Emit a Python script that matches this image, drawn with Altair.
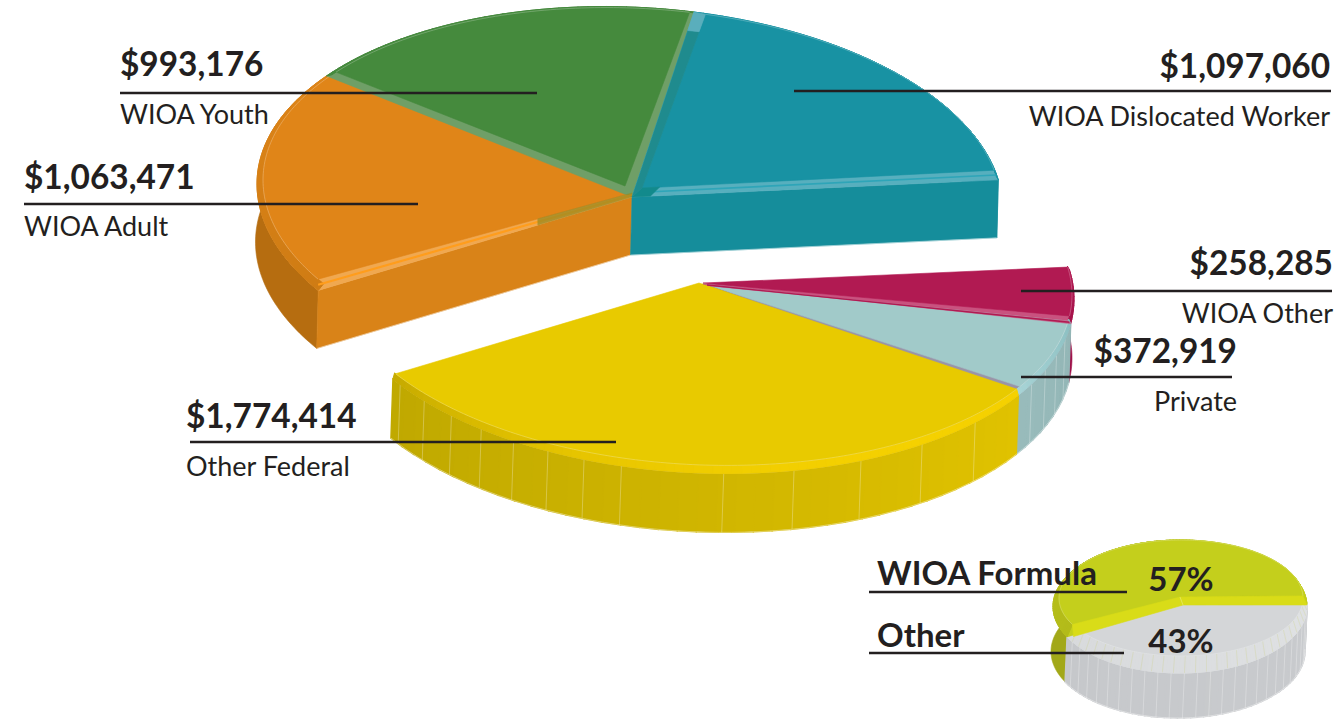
import math
import altair as alt
import pandas as pd

# Funding by source, clockwise from the front-left edge of the upper group
SOURCES = ["WIOA Adult", "WIOA Youth", "WIOA Dislocated Worker", "WIOA Other", "Private", "Other Federal"]
AMOUNTS = [1063471, 993176, 1097060, 258285, 372919, 1774414]
SHARE_NAMES = ["Other", "WIOA Formula"]
SHARES = [43, 57]

INK = "#231f20"
FONT = "Lato"
START = -123.3
SMALL_START = 88


def lerp_hex(c1, c2, t):
    a = [int(c1[i:i + 2], 16) for i in (1, 3, 5)]
    b = [int(c2[i:i + 2], 16) for i in (1, 3, 5)]
    return "#" + "".join(f"{round(p + (q - p) * t):02x}" for p, q in zip(a, b))


def mix(p, q, t):
    return (p[0] + (q[0] - p[0]) * t, p[1] + (q[1] - p[1]) * t)


class Disc:
    """Tilted disc: angles run clockwise from the back, drawn on a sheared ellipse."""

    def __init__(self, cx, cy, a, b, shear, ocx, ocy, oa, ob, drop, lean, apex):
        self.cx, self.cy, self.a, self.b, self.shear = cx, cy, a, b, shear
        self.ocx, self.ocy, self.oa, self.ob = ocx, ocy, oa, ob
        self.drop, self.lean, self.apex = drop, lean, apex

    def top(self, t):
        r = math.radians(t)
        return (self.cx + self.a * math.sin(r), self.cy - self.b * math.cos(r) + self.shear * math.sin(r))

    def rim(self, t):
        r = math.radians(t)
        return (self.ocx + self.oa * math.sin(r), self.ocy - self.ob * math.cos(r) + self.shear * math.sin(r))

    def low(self, p):
        return (p[0] + self.lean, p[1] + self.drop)


features = []


def add(coords, fill, stroke=None, sw=0.6, op=1.0):
    ring = [list(p) for p in coords] + [list(coords[0])]
    features.append({
        "type": "Feature",
        "geometry": {"type": "Polygon", "coordinates": [ring]},
        "properties": {"fill": fill, "stroke": stroke or fill, "sw": sw, "op": op},
    })


def stroke_line(coords, color, sw=0.8, op=0.5):
    features.append({
        "type": "Feature",
        "geometry": {"type": "LineString", "coordinates": [list(p) for p in coords]},
        "properties": {"fill": "transparent", "stroke": color, "sw": sw, "op": op},
    })


def sweep(t1, t2, step):
    n = max(2, int(abs(t2 - t1) / step) + 1)
    return [t1 + (t2 - t1) * i / n for i in range(n + 1)]


def seam_angles(t1, t2, step):
    out = []
    t = t1 + step
    while t < t2 - 0.5:
        out.append(t)
        t += step
    return out


def draw_sides(d, slices):
    for s in slices:
        if s["side_a"] == s["side_b"]:
            # One flat wall when the shade does not change along the arc
            arc = [d.rim(t) for t in sweep(s["t1"], s["t2"], 1.0)]
            add(arc + [d.low(p) for p in reversed(arc)], s["side_a"])
            continue
        ts = sweep(s["t1"], s["t2"], 3.0)
        for i in range(len(ts) - 1):
            p, q = d.rim(ts[i]), d.rim(ts[i + 1])
            f = (ts[i] - s["t1"]) / (s["t2"] - s["t1"])
            add([p, q, d.low(q), d.low(p)], lerp_hex(s["side_a"], s["side_b"], f), sw=1.4)
    for s in slices:
        for t in s.get("seams", []):
            p = d.rim(t)
            stroke_line([p, d.low(p)], "#ffffff", 0.8, 0.35)
        if s.get("seams"):
            arc = [d.rim(t) for t in sweep(s["t1"], s["t2"], 2)]
            stroke_line(arc, "#ffffff", 0.8, 0.5)
            stroke_line([d.low(p) for p in arc], "#ffffff", 0.8, 0.5)


def draw_cut(d, t, fill):
    p = d.rim(t)
    add([d.apex, p, d.low(p), d.low(d.apex)], fill)
    stroke_line([d.low(d.apex), d.low(p)], "#ffffff", 1, 0.45)


def draw_face(d, s):
    t1, t2 = s["t1"], s["t2"]
    # Bevel base in the band colour, then the shaded ring, then the flat face
    base = [d.apex] + [d.rim(t) for t in sweep(t1, t2, 1.5)]
    add(base, s["band"])
    ts = sweep(t1, t2, 1.5)
    for i in range(len(ts) - 1):
        f = (i / (len(ts) - 1)) ** s.get("ring_pow", 1)
        add([d.top(ts[i]), d.top(ts[i + 1]), d.rim(ts[i + 1]), d.rim(ts[i])],
            lerp_hex(s["ring_a"], s["ring_b"], f), sw=1.0)
    for t in s.get("ring_ticks", []):
        stroke_line([d.top(t), d.rim(t)], s.get("tick", "#ffffff"), 0.6, 0.3)
    inner_apex = (d.apex[0] + s["off"][0], d.apex[1] + s["off"][1])
    arc = [d.top(t) for t in sweep(t1 + s["d1"], t2 - s["d2"], 1.0)]
    add([inner_apex] + arc, s["face"])
    stroke_line(arc, "#ffffff", 0.7, 0.35)
    return inner_apex


big = Disc(632, 193, 369, 185, 13, 630, 197, 373, 190, 58, -1.5, (632, 197))
low = Disc(703, 283, 369, 182, 12, 703, 287, 371, 186, 59, -2, (703, 284))
small = Disc(1181, 598, 122, 58, 0, 1180, 606.5, 127, 66.5, 45, -2, (1181, 603))

edges = [START]
for v in AMOUNTS:
    edges.append(edges[-1] + v / sum(AMOUNTS) * 360)

styles = [
    dict(face="#e08518", band="#f0a850", ring_a="#cf7c14", ring_b="#dd8418", side_a="#b66d10", side_b="#b66d10",
         d1=1.6, d2=0.0, off=(0, -4)),
    dict(face="#458a3d", band="#6f9f67", ring_a="#458a3d", ring_b="#458a3d", side_a="#3c7a36", side_b="#3c7a36",
         d1=1.1, d2=0.9, off=(-7, -11)),
    dict(face="#1892a3", band="#57afbe", ring_a="#1892a3", ring_b="#1892a3", side_a="#158b9b", side_b="#158b9b",
         d1=1.6, d2=2.0, off=(10, -9)),
    dict(face="#b11a52", band="#c9527f", ring_a="#b11a52", ring_b="#a5124a", side_a="#9e0f48", side_b="#9e0f48",
         d1=0.3, d2=1.0, off=(0, -1)),
    dict(face="#a1cac9", band="#9a94a8", ring_a="#8cc0c2", ring_b="#a8d4d6", side_a="#93b6b6", side_b="#99bcbc",
         d1=0.6, d2=1.0, off=(8, 2)),
    dict(face="#e8ca00", band="#c9ac10", ring_a="#f5d100", ring_b="#c4a900", ring_pow=3,
         side_a="#e0c200", side_b="#bfa800", d1=0.0, d2=0.3, off=(-4, -1)),
]
slices = []
for i, st in enumerate(styles):
    slices.append(dict(st, t1=edges[i], t2=edges[i + 1]))
slices[4]["seams"] = seam_angles(edges[4], edges[5], 5)
slices[5]["seams"] = seam_angles(edges[5], edges[6] - 50, 11) + seam_angles(edges[6] - 50, edges[6], 6)

# Upper group: adult, youth, dislocated worker
draw_sides(big, slices[:3])
draw_cut(big, edges[0], "#d98318")
draw_cut(big, edges[3], "#158d9b")
for s in slices[:3]:
    s["inner"] = draw_face(big, s)

# Highlight strips and shadowed ends on the cut-edge bevels
o = slices[0]
a0, b0 = big.apex, big.rim(o["t1"])
c0, e0 = o["inner"], big.top(o["t1"] + o["d1"])
stroke_line([mix(a0, c0, .5), mix(b0, e0, .5)], "#ff9d1c", 2.2, 1)
add([a0, mix(a0, b0, .3), mix(c0, e0, .3), c0], "#9a8a22", op=0.75)

t = slices[2]
a1, b1 = big.apex, big.rim(t["t2"])
c1, e1 = t["inner"], big.top(t["t2"] - t["d2"])
stroke_line([mix(a1, c1, .5), mix(b1, e1, .5)], "#2aa5b8", 1.6, 0.9)
add([a1, mix(a1, b1, .05), mix(c1, e1, .05), c1], "#128a8c")
f1, g1 = big.rim(t["t1"]), big.top(t["t1"] + t["d1"])
add([a1, mix(a1, f1, .9), mix(c1, g1, .9), c1], "#1f8b8e")
add([mix(a1, f1, .9), f1, g1, mix(c1, g1, .9)], "#5aaebc")

# Lower group: other WIOA, private, other federal
draw_sides(low, slices[3:])
for s in slices[3:]:
    s["inner"] = draw_face(low, s)
p0, q0 = low.apex, low.rim(edges[4])
r0, w0 = slices[4]["inner"], low.top(edges[4] + slices[4]["d1"])
add([p0, q0, w0, r0], "#c9527f", op=0.85)
stroke_line([mix(p0, r0, .5), mix(q0, w0, .5)], "#b11a52", 1.4, 1)

# Key pie: grey first, lime over it, then the bright cut band between them
sm_edges = [SMALL_START]
for v in SHARES:
    sm_edges.append(sm_edges[-1] + v / sum(SHARES) * 360)
grey = dict(t1=sm_edges[0], t2=sm_edges[1], face="#d4d6d8", band="#d4d6d8", ring_a="#e0e2e4", ring_b="#d8dadc",
            side_a="#c9cbce", side_b="#c6c8cb", d1=0, d2=0, off=(2, 2),
            seams=seam_angles(sm_edges[0], sm_edges[1], 6), ring_ticks=seam_angles(sm_edges[0], sm_edges[1], 5),
            tick="#c4ca50")
lime = dict(t1=sm_edges[1], t2=sm_edges[2], face="#c4cf1c", band="#c4cf1c", ring_a="#b3bb1a", ring_b="#c4cf1c",
            side_a="#a2a818", side_b="#a2a818", d1=0, d2=0, off=(-1, -6))
draw_sides(small, [lime, grey])
draw_face(small, grey)
lime_apex = draw_face(small, lime)
edge_l, edge_r = small.top(sm_edges[1]), small.top(sm_edges[2])
add([edge_l, lime_apex, edge_r,
     (edge_r[0] + 4, edge_r[1] + 9), (lime_apex[0] + 3, lime_apex[1] + 8), (edge_l[0] + 1, edge_l[1] + 12)],
    "#d9dc18")
stroke_line([lime_apex, (lime_apex[0] + 3, lime_apex[1] + 8)], "#ffffff", 0.7, 0.4)

# Leader lines and captions
money = {n: f"${v:,}" for n, v in zip(SOURCES, AMOUNTS)}
rules = pd.DataFrame([
    dict(x=794, x2=1331, y=91), dict(x=120, x2=537, y=93), dict(x=24, x2=418, y=204),
    dict(x=1021, x2=1332, y=291), dict(x=1021, x2=1232, y=377), dict(x=190, x2=616, y=442),
    dict(x=869, x2=1127, y=592), dict(x=869, x2=1124, y=653),
])
amount_left = pd.DataFrame([
    dict(t=money["WIOA Youth"], x=120, y=66), dict(t=money["WIOA Adult"], x=24, y=179),
    dict(t=money["Other Federal"], x=186, y=418),
])
amount_right = pd.DataFrame([
    dict(t=money["WIOA Dislocated Worker"], x=1330, y=68), dict(t=money["WIOA Other"], x=1333, y=265),
    dict(t=money["Private"], x=1237, y=353),
])
name_left = pd.DataFrame([
    dict(t="WIOA Youth", x=120, y=116), dict(t="WIOA Adult", x=24, y=228), dict(t="Other Federal", x=186, y=468),
])
name_right = pd.DataFrame([
    dict(t="WIOA Dislocated Worker", x=1330, y=118), dict(t="WIOA Other", x=1333, y=315),
    dict(t="Private", x=1237, y=403),
])
key_names = pd.DataFrame([
    dict(t=SHARE_NAMES[1], x=877, y=575), dict(t=SHARE_NAMES[0], x=877, y=637),
])
key_shares = pd.DataFrame([
    dict(t=f"{SHARES[1]}%", x=1181, y=581), dict(t=f"{SHARES[0]}%", x=1181, y=643),
])


def caption(df, size, weight, align):
    return alt.Chart(df).mark_text(font=FONT, fontSize=size, fontWeight=weight, align=align,
                                   baseline="middle", color=INK).encode(
        x=alt.X("x:Q", scale=None, axis=None),
        y=alt.Y("y:Q", scale=None, axis=None),
        text="t:N",
    )


pies = alt.Chart(alt.Data(values=features)).mark_geoshape().encode(
    fill=alt.Fill("properties.fill:N", scale=None),
    stroke=alt.Stroke("properties.stroke:N", scale=None),
    strokeWidth=alt.StrokeWidth("properties.sw:Q", scale=None),
    opacity=alt.Opacity("properties.op:Q", scale=None),
).project(type="identity", scale=1, translate=[0, 0])

leaders = alt.Chart(rules).mark_rule(color=INK, strokeWidth=2.5).encode(
    x=alt.X("x:Q", scale=None, axis=None),
    x2="x2:Q",
    y=alt.Y("y:Q", scale=None, axis=None),
)

chart = alt.layer(
    pies,
    leaders,
    caption(amount_left, 33.4, 700, "left"),
    caption(amount_right, 33.4, 700, "right"),
    caption(name_left, 27, 400, "left"),
    caption(name_right, 27, 400, "right"),
    caption(key_names, 33, 700, "left"),
    caption(key_shares, 33, 700, "center"),
).properties(
    width=1337, height=721, padding=0, background="white",
    autosize=alt.AutoSizeParams(type="none"),
).configure_view(stroke=None)

chart.save("out.html", embed_options={"renderer": "svg", "actions": False})
